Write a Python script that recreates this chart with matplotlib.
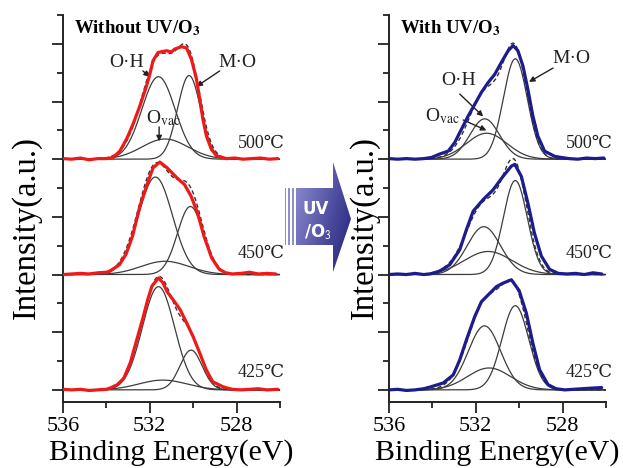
import numpy as np
import matplotlib
matplotlib.use("Agg")
import matplotlib.pyplot as plt
from matplotlib.ticker import MultipleLocator, NullFormatter
from matplotlib.patches import Polygon, Rectangle

plt.rcParams['font.family'] = ['Liberation Serif', 'DejaVu Serif', 'DejaVu Sans']
plt.rcParams['mathtext.fontset'] = 'stix'

# ---------------- data ----------------
temps = ["500℃", "450℃", "425℃"]
offsets = [4, 2, 0]

# Without UV/O3 : measured spectra (binding energy, intensity above baseline)
wo_500_E = [536.0, 535.6, 535.2, 534.8, 534.4, 534.0, 533.69, 533.38, 533.07, 532.77, 532.46, 532.15, 532.0,
            531.85, 531.62, 531.23, 531.0, 530.85, 530.54, 530.31, 530.08, 529.85, 529.70, 529.55, 529.39,
            529.16, 528.93, 528.47, 528.1, 527.7, 527.3, 526.9, 526.5, 526.1]
wo_500_I = [0.01, 0.00, 0.02, -0.01, 0.01, 0.01, 0.03, 0.14, 0.35, 0.61, 0.92, 1.27, 1.47,
            1.71, 1.85, 1.88, 1.86, 1.91, 1.95, 1.93, 1.73, 1.39, 1.04, 0.69, 0.40,
            0.17, 0.06, 0.01, 0.02, 0.0, 0.01, 0.02, 0.0, 0.01]
wo_450_E = [536.0, 535.6, 535.2, 534.8, 534.4, 534.0, 533.84, 533.4, 533.1, 532.8, 532.46, 532.1, 531.85,
            531.54, 531.2, 530.76, 530.4, 530.1, 529.8, 529.5, 529.15, 528.8, 528.5, 528.2, 527.8, 527.4,
            527.0, 526.6, 526.2]
wo_450_I = [0.0, 0.01, 0.02, 0.01, 0.03, 0.04, 0.06, 0.17, 0.35, 0.66, 1.18, 1.59, 1.85,
            1.95, 1.85, 1.68, 1.56, 1.36, 1.07, 0.66, 0.29, 0.09, 0.03, 0.01, 0.02, 0.04,
            0.01, 0.02, 0.01]
wo_425_E = [536.0, 535.6, 535.2, 534.8, 534.4, 534.0, 533.84, 533.5, 533.2, 532.9, 532.6, 532.3, 532.1,
            531.9, 531.6, 531.4, 531.2, 530.9, 530.6, 530.3, 530.0, 529.7, 529.4, 529.1, 528.6, 528.2,
            527.8, 527.4, 527.0, 526.6, 526.1]
wo_425_I = [0.01, 0.0, 0.01, -0.01, 0.0, 0.01, 0.03, 0.09, 0.2, 0.47, 0.87, 1.27, 1.56,
            1.80, 1.94, 1.86, 1.70, 1.55, 1.39, 1.16, 0.92, 0.64, 0.35, 0.14, 0.05, 0.01,
            0.0, 0.01, 0.02, 0.0, 0.01]

# With UV/O3 : measured spectra
w_500_E = [536.0, 535.6, 535.2, 534.8, 534.4, 534.04, 533.66, 533.27, 532.97, 532.66, 532.35, 532.05, 531.74,
           531.43, 531.13, 530.82, 530.51, 530.28, 530.06, 529.83, 529.6, 529.37, 529.14, 528.83, 528.37,
           528.06, 527.7, 527.3, 526.9, 526.5, 526.1]
w_500_I = [0.01, 0.0, 0.01, 0.0, 0.01, 0.03, 0.09, 0.14, 0.29, 0.52, 0.75, 0.95, 1.16,
           1.33, 1.47, 1.68, 1.88, 1.97, 1.88, 1.62, 1.21, 0.75, 0.40, 0.14, 0.05,
           0.03, 0.01, 0.0, 0.02, 0.01, 0.02]
w_450_E = [536.0, 535.6, 535.2, 534.8, 534.4, 534.1, 533.66, 533.2, 532.74, 532.43, 532.12, 531.66, 531.2,
           530.75, 530.36, 530.2, 529.9, 529.6, 529.3, 528.98, 528.6, 528.2, 527.8, 527.4, 527.0, 526.6, 526.2]
w_450_I = [0.0, 0.01, 0.0, 0.02, 0.0, 0.01, 0.06, 0.17, 0.43, 0.78, 1.10, 1.30, 1.47,
           1.70, 1.88, 1.91, 1.70, 1.24, 0.72, 0.32, 0.09, 0.02, 0.01, 0.02, 0.0, 0.03, 0.01]
w_425_E = [536.0, 535.6, 535.2, 534.8, 534.4, 534.1, 533.5, 533.04, 532.74, 532.43, 532.05, 531.74, 531.5,
           531.05, 530.75, 530.36, 530.0, 529.67, 529.37, 529.06, 528.67, 528.3, 527.9, 527.5, 527.1, 526.7, 526.2]
w_425_I = [0.0, 0.01, -0.01, 0.0, 0.02, 0.05, 0.12, 0.26, 0.52, 0.87, 1.27, 1.53, 1.62,
           1.79, 1.85, 1.91, 1.72, 1.33, 0.81, 0.35, 0.09, 0.02, 0.0, 0.01, 0.02, 0.03, 0.04]

# fitted components per temperature: (center eV, height, FWHM eV)
wo_OH = [(531.60, 1.43, 1.80), (531.74, 1.69, 1.85), (531.60, 1.79, 1.75)]
wo_MO = [(530.19, 1.45, 1.25), (530.13, 1.18, 1.40), (530.10, 0.69, 1.20)]
wo_Ov = [(531.30, 0.35, 2.50), (531.30, 0.23, 2.60), (531.40, 0.17, 2.60)]
w_OH = [(531.59, 0.70, 1.60), (531.63, 0.83, 1.80), (531.60, 1.11, 1.75)]
w_MO = [(530.18, 1.74, 1.30), (530.18, 1.63, 1.30), (530.18, 1.46, 1.45)]
w_Ov = [(531.50, 0.45, 2.20), (531.43, 0.40, 2.60), (531.39, 0.38, 2.35)]

panels = [
    dict(title="Without UV/O$_\\mathbf{3}$", color="#ee1a1a",
         meas=[(wo_500_E, wo_500_I), (wo_450_E, wo_450_I), (wo_425_E, wo_425_I)],
         comps=[wo_OH, wo_MO, wo_Ov]),
    dict(title="With UV/O$_\\mathbf{3}$", color="#1c1c8c",
         meas=[(w_500_E, w_500_I), (w_450_E, w_450_I), (w_425_E, w_425_I)],
         comps=[w_OH, w_MO, w_Ov]),
]

# ---------------- figure ----------------
W, H = 623, 468
fig = plt.figure(figsize=(W / 100, H / 100), dpi=100)

ax_w = (280 - 63) / W
ax_h = (402 - 15) / H
ax_b = 1 - 402 / H
axes = [fig.add_axes([63 / W, ax_b, ax_w, ax_h]),
        fig.add_axes([389 / W, ax_b, ax_w, ax_h])]

grid = np.linspace(536, 526, 501)


def gauss(p):
    c, h, w = p
    return h * np.exp(-4 * np.log(2) * (grid - c) ** 2 / w ** 2)


comp_color = "#3c3c3c"
for ax, pan in zip(axes, panels):
    for k, off in enumerate(offsets):
        parts = [gauss(cl[k]) for cl in pan["comps"]]
        for p in parts:
            ax.plot(grid, p + off, color=comp_color, lw=0.9, zorder=2)
        ax.plot(grid, sum(parts) + off, color="#333333", lw=1.0, ls=(0, (3, 2)), zorder=3)
        E, I = pan["meas"][k]
        ax.plot(E, np.array(I) + off, color=pan["color"], lw=2.3, zorder=4,
                solid_joinstyle="round", solid_capstyle="round")
    ax.set_xlim(536, 526)
    ax.set_ylim(-0.21, 6.5)
    ax.xaxis.set_major_locator(MultipleLocator(4))
    ax.xaxis.set_minor_locator(MultipleLocator(2))
    ax.yaxis.set_major_locator(MultipleLocator(1))
    ax.yaxis.set_minor_locator(MultipleLocator(0.5))
    ax.yaxis.set_major_formatter(NullFormatter())
    ax.set_xticks([536, 532, 528])
    ax.set_xticklabels(["536", "532", "528"], fontsize=16)
    ax.tick_params(which="major", direction="out", length=8, width=1.3, color="#222222", pad=3)
    ax.tick_params(which="minor", direction="out", length=4.5, width=1.3, color="#222222")
    for s in ("top", "right"):
        ax.spines[s].set_visible(False)
    for s in ("left", "bottom"):
        ax.spines[s].set_linewidth(1.4)
        ax.spines[s].set_color("#222222")
    ax.set_xlabel("Binding Energy(eV)", fontsize=21.5, labelpad=2)
    ax.text(0.05, 0.965, pan["title"], transform=ax.transAxes, fontsize=13.5,
            fontweight="bold", ha="left", va="center")

# temperature labels
for ax, xr in zip(axes, [525.8, 525.7]):
    for t, yv in zip(temps, [4.28, 2.36, 0.30]):
        ax.text(xr, yv, t, fontsize=13, ha="right", va="center", clip_on=False, color="#222222")

# y labels
fig.text(26 / W, 1 - 228 / H, "Intensity(a.u.)", rotation=90, fontsize=23.5, ha="center", va="center")
fig.text(364 / W, 1 - 228 / H, "Intensity(a.u.)", rotation=90, fontsize=23.5, ha="center", va="center")

# annotations (left)
axL, axR = axes
ann_kw = dict(fontsize=14, color="#222222")
arr = dict(arrowstyle="-|>", color="#222222", lw=1.0, mutation_scale=8, shrinkA=0, shrinkB=0)
axL.annotate("", xy=(532.0, 5.43), xytext=(532.32, 5.53), arrowprops=arr)
axL.text(533.08, 5.67, "O·H", ha="center", va="center", **ann_kw)
axL.annotate("", xy=(529.85, 5.26), xytext=(528.78, 5.53), arrowprops=arr)
axL.text(527.98, 5.67, "M·O", ha="center", va="center", **ann_kw)
axL.annotate("", xy=(531.57, 4.31), xytext=(531.57, 4.56), arrowprops=arr)
axL.text(531.39, 4.71, "O$_{\\mathrm{vac}}$", ha="center", va="center", **ann_kw)

# annotations (right)
axR.annotate("", xy=(529.55, 5.34), xytext=(528.44, 5.58), arrowprops=arr)
axR.text(527.6, 5.75, "M·O", ha="center", va="center", **ann_kw)
axR.annotate("", xy=(531.66, 4.74), xytext=(532.74, 5.13), arrowprops=arr)
axR.text(532.81, 5.36, "O·H", ha="center", va="center", **ann_kw)
axR.annotate("", xy=(531.51, 4.50), xytext=(532.58, 4.68), arrowprops=arr)
axR.text(534.34, 4.74, "O$_{\\mathrm{vac}}$", ha="left", va="center", **ann_kw)

# ---------------- UV/O3 arrow graphic (pixel overlay) ----------------
ov = fig.add_axes([0, 0, 1, 1], zorder=-1)
ov.set_xlim(0, W)
ov.set_ylim(H, 0)
ov.axis("off")
for bx in (284.5, 288.3, 292.3):
    ov.add_patch(Rectangle((bx, 188), 1.8, 57, color="#8f8fd0", lw=0))
arrow_pts = [(296, 188), (333, 188), (333, 162), (351, 219), (333, 272), (333, 245), (296, 245)]
poly = Polygon(arrow_pts, closed=True, facecolor="none", edgecolor="none")
ov.add_patch(poly)
gx = np.linspace(0, 1, 200)
gy = np.linspace(0, 1, 200)
GX, GY = np.meshgrid(gx, gy)
val = 0.65 * GX + 0.35 * GY
c0 = np.array([0x90, 0x90, 0xd6]) / 255
c1 = np.array([0x1e, 0x1e, 0x78]) / 255
img = c0[None, None, :] * (1 - val[..., None]) + c1[None, None, :] * val[..., None]
im = ov.imshow(img, extent=(296, 351, 272, 162), aspect="auto", interpolation="bilinear")
im.set_clip_path(poly)
ov.text(316, 209, "UV", color="white", fontsize=12, fontweight="bold", family="DejaVu Sans",
        ha="center", va="center")
ov.text(318, 232, "/O$_\\mathsf{3}$", color="white", fontsize=12, fontweight="bold",
        family="DejaVu Sans", ha="center", va="center")

fig.savefig("out.png", dpi=100)
